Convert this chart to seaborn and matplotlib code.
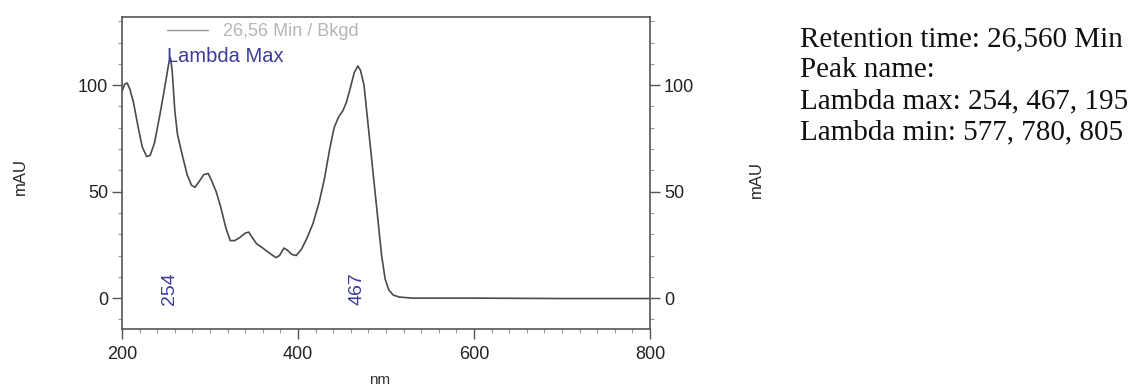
import pandas as pd
import seaborn as sns
import numpy as np
from matplotlib import pyplot as plt
from matplotlib.ticker import MultipleLocator

# Spectrum (nm vs mAU)
wavelength = [200, 203, 206, 209, 213, 218, 223, 228, 232, 237, 243, 249, 253, 255, 257,
              260, 263, 268, 274, 279, 283, 288, 293, 298, 302, 307, 312, 318, 323, 328,
              334, 340, 344, 348, 353, 360, 368, 375, 379, 384, 388, 393, 398, 404, 410,
              417, 424, 430, 436, 441, 446, 451, 455, 459, 464, 468, 471, 475, 479, 483,
              487, 491, 495, 499, 503, 508, 515, 530, 600, 700, 800]
absorbance = [97, 100.5, 101, 98, 92, 81, 71, 66.5, 67, 73, 86, 100, 110, 113, 107,
              88, 77, 68, 58, 53, 52, 55, 58, 58.5, 55, 50, 43, 33, 27, 27,
              28.5, 30.5, 31, 28.5, 25.5, 23.5, 21, 19, 20, 23.5, 22.5, 20.5, 20, 23, 28,
              35, 45, 56, 70, 80, 85, 88, 92, 98, 106, 109, 107, 100, 84, 68,
              52, 36, 20, 9, 4, 1.5, 0.5, 0, 0, -0.2, -0.2]

peak_nm = [254, 467]
info_lines = ["Retention time: 26,560 Min",
              "Peak name:",
              "Lambda max: 254, 467, 195",
              "Lambda min: 577, 780, 805"]

df = pd.DataFrame({"nm": wavelength, "mAU": absorbance})

sns.set_style("ticks")
plt.rcParams["font.family"] = ["Liberation Sans", "DejaVu Sans"]

fig = plt.figure(figsize=(11.37, 3.90), dpi=100)
ax = fig.add_axes([0.1073, 0.1564, 0.4644, 0.80])

sns.lineplot(data=df, x="nm", y="mAU", ax=ax, color="#4a4a4a", linewidth=1.2,
             label="26,56 Min / Bkgd")

ax.set_xlim(200, 800)
ax.set_ylim(-14.5, 132)
ax.xaxis.set_major_locator(MultipleLocator(200))
ax.xaxis.set_minor_locator(MultipleLocator(20))
ax.yaxis.set_major_locator(MultipleLocator(50))
ax.yaxis.set_minor_locator(MultipleLocator(10))

ax.tick_params(which="both", right=True, labelright=True, colors="#222222", labelsize=13)
ax.tick_params(which="major", length=7, width=1, color="#555555")
ax.tick_params(which="minor", length=3, width=0.8, color="#999999")
ax.tick_params(axis="y", which="major", pad=3)
ax.tick_params(axis="x", which="major", pad=5)

for s in ax.spines.values():
    s.set_visible(True)
    s.set_color("#555555")
    s.set_linewidth(1.2)

ax.set_xlabel("")
ax.set_ylabel("")
ax.text(-0.193, 0.49, "mAU", rotation=90, transform=ax.transAxes, ha="center", va="center", fontsize=12)
ax.text(1.201, 0.48, "mAU", rotation=90, transform=ax.transAxes, ha="center", va="center", fontsize=12)
ax.text(0.487, -0.165, "nm", transform=ax.transAxes, ha="center", va="center", fontsize=11, color="#333333")

leg = ax.legend(loc="center left", bbox_to_anchor=(0.085, 0.952), frameon=False, fontsize=13,
                handlelength=2.3, handletextpad=0.8, borderpad=0, borderaxespad=0,
                labelcolor="#b5b5b5")
for line in leg.get_lines():
    line.set_color("#9a9a9a")
    line.set_linewidth(1.0)

ax.text(0.085, 0.875, "Lambda Max", transform=ax.transAxes, ha="left", va="center",
        fontsize=14.5, color="#3d3d99")
for p in peak_nm:
    ax.text(p, 4.6, str(p), rotation=90, ha="center", va="center", fontsize=14, color="#3d3d99")

for i, line in enumerate(info_lines):
    fig.text(800 / 1137, 1 - (46 + i * 31) / 390, line, ha="left", va="baseline",
             fontsize=21, family=["Liberation Serif", "DejaVu Serif"], color="#111111")

fig.savefig("out.png", dpi=100)
